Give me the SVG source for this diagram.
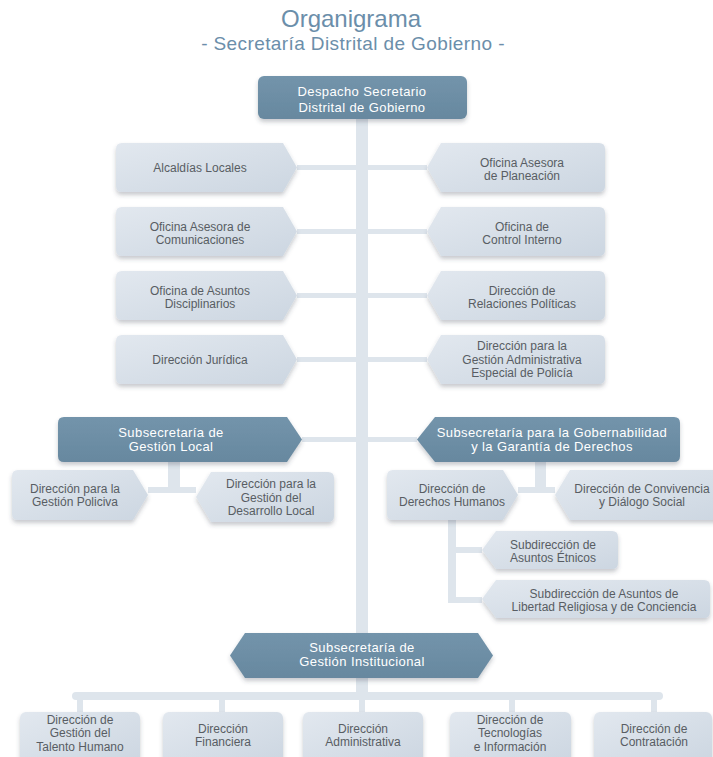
<svg xmlns="http://www.w3.org/2000/svg" width="713" height="757" viewBox="0 0 713 757">
<defs>
<linearGradient id="lg" x1="0" y1="0" x2="1" y2="1">
<stop offset="0" stop-color="#e2e8ef"/>
<stop offset="1" stop-color="#ccd6e1"/>
</linearGradient>
<linearGradient id="dg" x1="0" y1="0" x2="0" y2="1">
<stop offset="0" stop-color="#7394ab"/>
<stop offset="1" stop-color="#67889f"/>
</linearGradient>
<filter id="sh" x="-10%" y="-10%" width="120%" height="140%">
<feDropShadow dx="0" dy="3" stdDeviation="2" flood-color="#3a4650" flood-opacity="0.28"/>
</filter>
</defs>
<style>
.l{fill:url(#lg);filter:url(#sh)}
.d{fill:url(#dg);filter:url(#sh)}
.c{fill:#dee5ec}
.t{font-family:"Liberation Sans",Arial,sans-serif;font-size:12px;fill:#585d63;text-anchor:middle}
.w{font-family:"Liberation Sans",Arial,sans-serif;font-size:13px;letter-spacing:0.4px;fill:#ffffff;text-anchor:middle}
.h{font-family:"Liberation Sans",Arial,sans-serif;fill:#6b8eaa;text-anchor:middle}
</style>
<rect width="713" height="757" fill="#ffffff"/>
<text class="h" x="351" y="27" font-size="24">Organigrama</text>
<text class="h" x="353" y="50" font-size="19" letter-spacing="0.4">- Secretaría Distrital de Gobierno -</text>

<g id="connectors">
<rect class="c" x="356" y="119" width="12" height="577"/>
<rect class="c" x="297" y="165" width="59" height="5"/>
<rect class="c" x="297" y="229" width="59" height="5"/>
<rect class="c" x="297" y="293" width="59" height="5"/>
<rect class="c" x="297" y="357" width="59" height="5"/>
<rect class="c" x="368" y="165" width="59" height="5"/>
<rect class="c" x="368" y="229" width="59" height="5"/>
<rect class="c" x="368" y="293" width="59" height="5"/>
<rect class="c" x="368" y="357" width="59" height="5"/>
<rect class="c" x="302" y="437" width="54" height="5"/>
<rect class="c" x="368" y="437" width="49" height="5"/>
<rect class="c" x="168" y="462" width="12" height="31"/>
<rect class="c" x="148" y="487" width="48" height="6"/>
<rect class="c" x="535" y="462" width="11" height="31"/>
<rect class="c" x="518" y="487" width="37" height="6"/>
<rect class="c" x="448" y="520" width="8" height="83"/>
<rect class="c" x="448" y="547" width="34" height="6"/>
<rect class="c" x="448" y="597" width="34" height="6"/>
<rect class="c" x="72" y="692" width="591" height="8" rx="4"/>
<rect class="c" x="77" y="698" width="6" height="14"/>
<rect class="c" x="219" y="698" width="6" height="14"/>
<rect class="c" x="359" y="698" width="6" height="14"/>
<rect class="c" x="509" y="698" width="6" height="14"/>
<rect class="c" x="651" y="698" width="6" height="14"/>
</g>

<g id="despacho">
<rect class="d" x="258" y="76" width="209" height="43" rx="6"/>
<text class="w" x="362" y="96" font-size="14" letter-spacing="0.6"><tspan x="362">Despacho Secretario</tspan><tspan x="362" dy="15.8">Distrital de Gobierno</tspan></text>
</g>

<g id="alcaldias">
<path class="l" d="M122 143H283L297 167.5L283 192H122Q116 192 116 186V149Q116 143 122 143Z"/>
<text class="t" x="200" y="172">Alcaldías Locales</text>
</g>
<g id="comunicaciones">
<path class="l" d="M122 207H283L297 231.5L283 256H122Q116 256 116 250V213Q116 207 122 207Z"/>
<text class="t" x="200" y="230.5"><tspan x="200">Oficina Asesora de</tspan><tspan x="200" dy="13.6">Comunicaciones</tspan></text>
</g>
<g id="disciplinarios">
<path class="l" d="M122 271H283L297 295.5L283 320H122Q116 320 116 314V277Q116 271 122 271Z"/>
<text class="t" x="200" y="294.5"><tspan x="200">Oficina de Asuntos</tspan><tspan x="200" dy="13.6">Disciplinarios</tspan></text>
</g>
<g id="juridica">
<path class="l" d="M122 335H283L297 359.5L283 384H122Q116 384 116 378V341Q116 335 122 335Z"/>
<text class="t" x="200" y="364">Dirección Jurídica</text>
</g>

<g id="planeacion">
<path class="l" d="M599 143H441L427 167.5L441 192H599Q605 192 605 186V149Q605 143 599 143Z"/>
<text class="t" x="522" y="166.5"><tspan x="522">Oficina Asesora</tspan><tspan x="522" dy="13.6">de Planeación</tspan></text>
</g>
<g id="control">
<path class="l" d="M599 207H441L427 231.5L441 256H599Q605 256 605 250V213Q605 207 599 207Z"/>
<text class="t" x="522" y="230.5"><tspan x="522">Oficina de</tspan><tspan x="522" dy="13.6">Control Interno</tspan></text>
</g>
<g id="relaciones">
<path class="l" d="M599 271H441L427 295.5L441 320H599Q605 320 605 314V277Q605 271 599 271Z"/>
<text class="t" x="522" y="294.5"><tspan x="522">Dirección de</tspan><tspan x="522" dy="13.6">Relaciones Políticas</tspan></text>
</g>
<g id="policia">
<path class="l" d="M599 335H441L427 359.5L441 384H599Q605 384 605 378V341Q605 335 599 335Z"/>
<text class="t" x="522" y="350"><tspan x="522">Dirección para la</tspan><tspan x="522" dy="13.6">Gestión Administrativa</tspan><tspan x="522" dy="13.6">Especial de Policía</tspan></text>
</g>

<g id="sub-local">
<path class="d" d="M64 417H287L302 439.5L287 462H64Q58 462 58 456V423Q58 417 64 417Z"/>
<text class="w" x="171" y="436.5"><tspan x="171">Subsecretaría de</tspan><tspan x="171" dy="14.6">Gestión Local</tspan></text>
</g>
<g id="sub-gobernabilidad">
<path class="d" d="M674 417H435L417 439.5L435 462H674Q680 462 680 456V423Q680 417 674 417Z"/>
<text class="w" x="552" y="436.5"><tspan x="552">Subsecretaría para la Gobernabilidad</tspan><tspan x="552" dy="14.6">y la Garantía de Derechos</tspan></text>
</g>

<g id="policiva">
<path class="l" d="M18 470H133L148 495L133 520H18Q12 520 12 514V476Q12 470 18 470Z"/>
<text class="t" x="75" y="492.5"><tspan x="75">Dirección para la</tspan><tspan x="75" dy="13.6">Gestión Policiva</tspan></text>
</g>
<g id="desarrollo">
<path class="l" d="M328 472H211L196 497L211 522H328Q334 522 334 516V478Q334 472 328 472Z"/>
<text class="t" x="271" y="488"><tspan x="271">Dirección para la</tspan><tspan x="271" dy="13.6">Gestión del</tspan><tspan x="271" dy="13.6">Desarrollo Local</tspan></text>
</g>
<g id="ddhh">
<path class="l" d="M393 470H503L518 495L503 520H393Q387 520 387 514V476Q387 470 393 470Z"/>
<text class="t" x="452" y="492.5"><tspan x="452">Dirección de</tspan><tspan x="452" dy="13.6">Derechos Humanos</tspan></text>
</g>
<g id="convivencia">
<path class="l" d="M730 470H570L555 495L570 520H730Z"/>
<text class="t" x="642" y="492.5"><tspan x="642">Dirección de Convivencia</tspan><tspan x="642" dy="13.6">y Diálogo Social</tspan></text>
</g>
<g id="etnicos">
<path class="l" d="M612 531H496L482 550L496 569H612Q618 569 618 563V537Q618 531 612 531Z"/>
<text class="t" x="553" y="548.5"><tspan x="553">Subdirección de</tspan><tspan x="553" dy="13.6">Asuntos Étnicos</tspan></text>
</g>
<g id="libertad">
<path class="l" d="M704 580H496L482 599L496 618H704Q710 618 710 612V586Q710 580 704 580Z"/>
<text class="t" x="604" y="597.5"><tspan x="604">Subdirección de Asuntos de</tspan><tspan x="604" dy="13.6">Libertad Religiosa y de Conciencia</tspan></text>
</g>

<g id="sub-institucional">
<path class="d" d="M245 633H478L493 655.5L478 678H245L230 655.5Z"/>
<text class="w" x="362" y="651.5"><tspan x="362">Subsecretaría de</tspan><tspan x="362" dy="14.6">Gestión Institucional</tspan></text>
</g>

<g id="talento">
<rect class="l" x="20" y="712" width="120" height="52" rx="6"/>
<text class="t" x="80" y="723.5"><tspan x="80">Dirección de</tspan><tspan x="80" dy="13.6">Gestión del</tspan><tspan x="80" dy="13.6">Talento Humano</tspan></text>
</g>
<g id="financiera">
<rect class="l" x="163" y="712" width="120" height="52" rx="6"/>
<text class="t" x="223" y="732.5"><tspan x="223">Dirección</tspan><tspan x="223" dy="13.6">Financiera</tspan></text>
</g>
<g id="administrativa">
<rect class="l" x="303" y="712" width="120" height="52" rx="6"/>
<text class="t" x="363" y="732.5"><tspan x="363">Dirección</tspan><tspan x="363" dy="13.6">Administrativa</tspan></text>
</g>
<g id="tecnologias">
<rect class="l" x="450" y="712" width="121" height="52" rx="6"/>
<text class="t" x="510" y="723.5"><tspan x="510">Dirección de</tspan><tspan x="510" dy="13.6">Tecnologías</tspan><tspan x="510" dy="13.6">e Información</tspan></text>
</g>
<g id="contratacion">
<rect class="l" x="594" y="712" width="118" height="52" rx="6"/>
<text class="t" x="654" y="732.5"><tspan x="654">Dirección de</tspan><tspan x="654" dy="13.6">Contratación</tspan></text>
</g>
</svg>
